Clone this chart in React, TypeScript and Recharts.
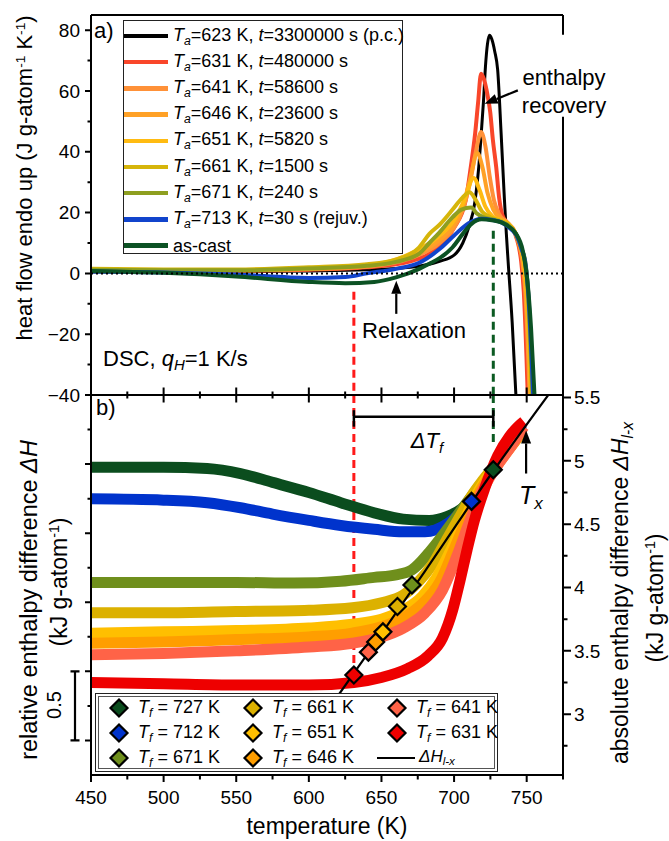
import React from "react";
import { LineChart, ComposedChart, Line, Scatter, XAxis, YAxis, ReferenceLine } from "recharts";

const FONT = "'Liberation Sans', Arial, Helvetica, sans-serif";

// panel a) DSC scans, [temperature K, heat flow J g-atom^-1 K^-1]
const dscPc: [number, number][] = [[450, 0.5], [500, 0.5], [550, 0.6], [600, 0.8], [640, 1.2], [670, 2], [690, 4], [700, 6], [706, 10], [710, 15], [714.5, 24], [717, 35], [718.7, 46], [720.3, 57], [721.6, 68], [723, 75.5], [724.4, 78.3], [726, 77], [728, 73], [730, 67], [732.4, 46], [734.7, 24], [736, 13], [737.2, 4], [740, -16], [743, -44]];
const dsc631: [number, number][] = [[450, 1], [500, 0.8], [550, 0.9], [600, 1.2], [640, 2], [670, 4], [690, 9], [700, 15], [708, 24], [711.5, 35], [714.5, 46], [716.5, 56], [718.6, 65.7], [720.5, 64], [722.5, 60], [724.9, 53], [726.7, 44], [729, 35], [731, 25], [733.4, 19], [737, 16.5], [742, 13], [744.5, 9], [746.2, 4], [748, -6], [751, -44]];
const dsc641: [number, number][] = [[450, 1], [500, 0.9], [550, 1], [600, 1.4], [640, 2.2], [670, 5], [690, 10], [700, 15], [706, 21], [711, 30], [715, 40], [718.6, 46.5], [721.5, 42], [724.5, 32], [727.5, 24], [731, 19.5], [736, 17], [742, 13.5], [745, 9], [747, 4], [749, -6], [752.3, -44]];
const dsc646: [number, number][] = [[450, 1.1], [500, 1], [550, 1], [600, 1.5], [640, 2.4], [670, 5.5], [690, 11], [700, 16], [706, 22], [711, 31], [716, 39.6], [719.5, 35], [723, 26.5], [727, 21], [732, 18], [737, 16.5], [742, 13.5], [745.5, 9], [747.5, 4], [749.5, -6], [752.8, -44]];
const dsc651: [number, number][] = [[450, 1.2], [500, 1], [550, 1.1], [600, 1.7], [640, 2.6], [670, 6.5], [690, 12.5], [700, 17.5], [707, 24], [713.5, 31.4], [717.5, 27.5], [721.5, 22], [726, 19], [732, 17.5], [737, 16.5], [742, 13.5], [746, 8.5], [748, 4], [750, -6], [753.3, -44]];
const dsc661: [number, number][] = [[450, 1.5], [500, 1.3], [550, 1.3], [600, 2], [640, 3], [660, 4.5], [676, 8.6], [683, 13], [690, 16], [699, 21], [705, 24.5], [710.7, 26.7], [714.5, 24.5], [719, 20.5], [725, 18.5], [732, 17.3], [737, 16.2], [742, 13.5], [746, 8.5], [748.5, 4], [750.5, -6], [753.8, -44]];
const dsc671: [number, number][] = [[450, 1.2], [500, 1], [550, 1], [600, 1.6], [640, 2.5], [660, 3.8], [676, 6.5], [683, 10], [690, 13.5], [699, 18.5], [705, 21], [711.8, 21.7], [715.5, 19.8], [720, 18.5], [726, 17.8], [733, 16.8], [738, 15.5], [743, 12.5], [746.5, 8], [749, 4], [751, -6], [754.3, -44]];
const dsc713: [number, number][] = [[450, 0.6], [500, 0.3], [550, -0.4], [600, -1.5], [625, -1.2], [640, 0], [660, 1.5], [676, 3.5], [690, 8], [700, 12.5], [710, 16.5], [719, 18], [726, 17.6], [733, 16.7], [738, 15], [743, 12.5], [746.5, 8], [749.2, 3], [751, -6], [754.8, -44]];
const dscCast: [number, number][] = [[450, 0.8], [500, 0.2], [550, -1], [600, -2.8], [625, -3.2], [645, -2.8], [660, -1.3], [676, 1.5], [683, 3.2], [690, 5], [699, 8.6], [706, 13], [712, 16.3], [719, 17.8], [726, 17.5], [733, 16.7], [742.7, 13], [747.3, 7.5], [749.6, 1], [751, -5], [753, -18], [755.8, -44]];

const annealTa = ["623", "631", "641", "646", "651", "661", "671", "713"];
const annealTime = ["3300000", "480000", "58600", "23600", "5820", "1500", "240", "30"];
const annealNote = [" (p.c.)", "", "", "", "", "", "", " (rejuv.)"];

const dscSeries = [
  { id: "pc", data: dscPc, color: "#000000", w: 3 },
  { id: "631", data: dsc631, color: "#f9462a", w: 4 },
  { id: "641", data: dsc641, color: "#ff9138", w: 4 },
  { id: "646", data: dsc646, color: "#ffa126", w: 4 },
  { id: "651", data: dsc651, color: "#ffbb12", w: 4 },
  { id: "661", data: dsc661, color: "#d6b50a", w: 4 },
  { id: "671", data: dsc671, color: "#8e9f20", w: 4 },
  { id: "713", data: dsc713, color: "#1144cc", w: 4 },
  { id: "cast", data: dscCast, color: "#0c5224", w: 4 },
];

// panel b) enthalpy curves, [temperature K, enthalpy (right axis units)]
const h727: [number, number][] = [[450, 4.95], [500, 4.95], [530, 4.94], [553, 4.9], [575, 4.83], [600, 4.75], [622, 4.67], [645, 4.59], [665, 4.54], [683, 4.53], [695, 4.56], [705, 4.62], [712, 4.7], [720, 4.82], [727, 4.93], [735, 5.07], [742, 5.2], [747, 5.28]];
const h712: [number, number][] = [[450, 4.7], [500, 4.69], [530, 4.67], [553, 4.63], [575, 4.58], [600, 4.53], [622, 4.49], [645, 4.46], [665, 4.44], [680, 4.44], [695, 4.5], [705, 4.6], [712, 4.69], [720, 4.82], [727, 4.94], [735, 5.08], [742, 5.21], [747, 5.29]];
const h671: [number, number][] = [[450, 4.04], [500, 4.04], [550, 4.04], [590, 4.035], [622, 4.05], [645, 4.08], [660, 4.1], [671, 4.14], [683, 4.28], [694, 4.44], [703, 4.58], [712, 4.72], [720, 4.84], [727, 4.94], [735, 5.07], [742, 5.19], [747, 5.27]];
const h661: [number, number][] = [[450, 3.8], [500, 3.8], [550, 3.81], [600, 3.82], [630, 3.84], [650, 3.88], [665, 3.94], [675, 4.04], [685, 4.18], [695, 4.38], [705, 4.58], [713, 4.74], [720, 4.85], [727, 4.95], [735, 5.07], [742, 5.18], [747, 5.25]];
const h651: [number, number][] = [[450, 3.64], [500, 3.65], [550, 3.66], [600, 3.68], [630, 3.71], [650, 3.75], [665, 3.82], [678, 3.93], [688, 4.08], [698, 4.3], [706, 4.5], [714, 4.7], [721, 4.84], [728, 4.95], [736, 5.07], [742, 5.16], [747, 5.23]];
const h646: [number, number][] = [[450, 3.56], [500, 3.57], [550, 3.59], [600, 3.61], [630, 3.64], [650, 3.69], [665, 3.76], [678, 3.87], [690, 4.04], [700, 4.3], [708, 4.52], [716, 4.72], [723, 4.86], [730, 4.97], [737, 5.08], [743, 5.17], [747.5, 5.24]];
const h641: [number, number][] = [[450, 3.47], [500, 3.48], [550, 3.5], [600, 3.53], [630, 3.56], [650, 3.61], [665, 3.68], [680, 3.8], [692, 3.98], [702, 4.25], [710, 4.5], [718, 4.73], [725, 4.88], [732, 5.0], [739, 5.11], [744, 5.2], [748, 5.27]];
const h631: [number, number][] = [[450, 3.25], [500, 3.24], [550, 3.23], [600, 3.23], [631, 3.25], [650, 3.29], [668, 3.36], [682, 3.46], [692, 3.6], [699, 3.82], [704, 4.05], [709, 4.3], [714, 4.53], [721, 4.78], [730, 5.04], [738, 5.19], [744, 5.27], [748, 5.31]];

const tfValues = [727, 712, 671, 661, 651, 646, 641, 631];
const tfColors = ["#0b4d1e", "#0033cc", "#6f8f1c", "#dcb100", "#ffbf00", "#ff9e00", "#ff6347", "#ee0000"];
const tfCurves = [h727, h712, h671, h661, h651, h646, h641, h631];
const tfEnthalpy = [4.93, 4.68, 4.02, 3.85, 3.65, 3.57, 3.49, 3.31];

// liquid-crystal enthalpy difference
const dHlxT = [600, 640, 680, 727, 770];
const dHlxV = [2.82, 3.47, 4.13, 4.92, 5.6];

const xDomain = [450, 775];
const heatDomain = [-40, 85];
const relDomain = [-0.25, 2.5];
const absDomain = [2.52, 5.52];
const xTicks = [450, 475, 500, 525, 550, 575, 600, 625, 650, 675, 700, 725, 750, 775];
const heatTicks = [-40, -30, -20, -10, 0, 10, 20, 30, 40, 50, 60, 70, 80];
const relTicks = [0, 0.25, 0.5, 0.75, 1, 1.25, 1.5, 1.75, 2, 2.25];
const absTicks = [2.75, 3, 3.25, 3.5, 3.75, 4, 4.25, 4.5, 4.75, 5, 5.25, 5.5];
const scaleBar = [0, 0.5];

// plot boxes (page px) that the chart margins below produce
const P_LEFT = 91;
const P_RIGHT = 563;
const A_TOP = 15;
const A_BOTTOM = 395;
const B_TOP = 395;
const B_BOTTOM = 775;

const lin = (d: number[], r0: number, r1: number) => (v: number) => r0 + ((v - d[0]) / (d[1] - d[0])) * (r1 - r0);
const xPx = lin(xDomain, P_LEFT, P_RIGHT);
const heatPx = lin(heatDomain, A_BOTTOM, A_TOP);
const relPx = lin(relDomain, B_BOTTOM, B_TOP);
const absPx = lin(absDomain, B_BOTTOM, B_TOP);

const pts = (a: [number, number][]) => a.map(([t, v]) => ({ t, v }));
const isMajor = (v: number, step: number) => Math.abs(v / step - Math.round(v / step)) < 1e-6;

const BLACK_LINE = { stroke: "#000", strokeWidth: 2 };

const TopYTick = (p: any) => {
  const { x, y, payload } = p;
  const v = payload.value;
  if (!isMajor(v, 20)) return <g />;
  return (
    <text x={x} y={y} dy="0.35em" textAnchor="end" fontSize={19} fontFamily={FONT} fill="#000">
      {v < 0 ? `\u2212${-v}` : v}
    </text>
  );
};

const BottomXTick = (p: any) => {
  const { x, y, payload } = p;
  if (!isMajor(payload.value, 50) || payload.value > 750) return <g />;
  return (
    <text x={x} y={y + 22} dy="0.35em" textAnchor="middle" fontSize={19} fontFamily={FONT} fill="#000">
      {payload.value}
    </text>
  );
};

const AbsTick = (p: any) => {
  const { x, y, payload } = p;
  if (!isMajor(payload.value, 0.5)) return <g />;
  return (
    <text x={x + 11} y={y} dy="0.35em" textAnchor="start" fontSize={19} fontFamily={FONT} fill="#000">
      {payload.value}
    </text>
  );
};

const Arrow = (p: any) => {
  const { x1, y1, x2, y2 } = p;
  const dx = x2 - x1;
  const dy = y2 - y1;
  const len = Math.sqrt(dx * dx + dy * dy) || 1;
  const ux = dx / len;
  const uy = dy / len;
  const hl = 13;
  const hw = 5;
  const bx = x2 - ux * hl;
  const by = y2 - uy * hl;
  return (
    <g>
      <line x1={x1} y1={y1} x2={bx} y2={by} stroke="#000" strokeWidth={2.2} />
      <polygon points={`${x2},${y2} ${bx - uy * hw},${by + ux * hw} ${bx + uy * hw},${by - ux * hw}`} fill="#000" />
    </g>
  );
};

const Diamond = ({ cx, cy, fill, s = 8.5 }: { cx: number; cy: number; fill: string; s?: number }) => (
  <polygon points={`${cx},${cy - s} ${cx + s},${cy} ${cx},${cy + s} ${cx - s},${cy}`} fill={fill} stroke="#000" strokeWidth={2.2} />
);

const abs = (left: number, top: number, extra: React.CSSProperties = {}): React.CSSProperties => ({
  position: "absolute",
  left,
  top,
  fontFamily: FONT,
  whiteSpace: "nowrap",
  lineHeight: 1,
  color: "#000",
  ...extra,
});

const VText = ({ cx, cy, size, children }: { cx: number; cy: number; size: number; children: React.ReactNode }) => (
  <div style={abs(cx, cy, { fontSize: size, transform: "translate(-50%, -50%) rotate(-90deg)" })}>{children}</div>
);

const sup = { fontSize: "0.62em", verticalAlign: "0.55em" } as React.CSSProperties;
const sub = { fontSize: "0.68em", verticalAlign: "-0.3em" } as React.CSSProperties;

// tick marks of all axes, built from the tick arrays and the axis scales
function tickPath() {
  let d = "";
  heatTicks.forEach((v) => {
    const y = heatPx(v);
    d += isMajor(v, 20) ? `M${P_LEFT - 6},${y}H${P_LEFT + 1}` : `M${P_LEFT - 3.5},${y}H${P_LEFT}`;
  });
  xTicks.forEach((t) => {
    if (t === xDomain[0] || t === xDomain[1]) return;
    const x = xPx(t);
    const h = isMajor(t, 50) ? 7.5 : 3.5;
    d += `M${x},${A_BOTTOM - h}V${A_BOTTOM + h}`;
  });
  xTicks.forEach((t) => {
    const x = xPx(t);
    d += `M${x},${B_BOTTOM}V${B_BOTTOM + (isMajor(t, 50) ? 7 : 4.5)}`;
  });
  relTicks.forEach((v) => {
    const y = relPx(v);
    d += isMajor(v, 0.5) ? `M${P_LEFT - 6},${y}H${P_LEFT}` : `M${P_LEFT - 3.5},${y}H${P_LEFT}`;
  });
  absTicks.forEach((v) => {
    const y = absPx(v);
    d += `M${P_RIGHT},${y}H${P_RIGHT + (isMajor(v, 0.5) ? 8 : 4.5)}`;
  });
  return d;
}

export default function App() {
  const diamonds = tfValues.map((t, i) => ({ t, v: tfEnthalpy[i], c: tfColors[i] }));
  const lineHlx = dHlxT.map((t, i) => ({ t, v: dHlxV[i] }));
  const sb0 = relPx(scaleBar[0]);
  const sb1 = relPx(scaleBar[1]);
  return (
    <div style={{ position: "absolute", left: 0, top: 0, width: 669, height: 841, background: "#fff", overflow: "hidden" }}>
      <div style={{ position: "absolute", left: 0, top: 0 }}>
        <LineChart width={669} height={410} margin={{ top: A_TOP, right: 669 - P_RIGHT, bottom: 410 - A_BOTTOM, left: P_LEFT - 60 }}>
          <XAxis type="number" dataKey="t" domain={xDomain} ticks={xTicks} interval={0} tick={false} tickLine={false} axisLine={BLACK_LINE} height={0} allowDataOverflow />
          <YAxis type="number" domain={heatDomain} ticks={heatTicks} interval={0} tickSize={0} tickMargin={11} tickLine={false} tick={<TopYTick />} axisLine={BLACK_LINE} width={60} allowDataOverflow />
          {dscSeries.map((s) => (
            <Line key={s.id} data={pts(s.data)} dataKey="v" type="monotone" stroke={s.color} strokeWidth={s.w} dot={false} isAnimationActive={false} />
          ))}
          <ReferenceLine y={0} stroke="#000" strokeWidth={2} strokeDasharray="2 3" />
          <ReferenceLine y={85} stroke="#000" strokeWidth={2} />
          <ReferenceLine y={-40} stroke="#000" strokeWidth={2} />
          <ReferenceLine segment={[{ x: 775, y: 85 }, { x: 775, y: 78.5 }]} stroke="#000" strokeWidth={2} />
          <ReferenceLine segment={[{ x: 775, y: 51.5 }, { x: 775, y: -40 }]} stroke="#000" strokeWidth={2} />
          <ReferenceLine segment={[{ x: 631, y: -6 }, { x: 631, y: -40 }]} stroke="#ff1a1a" strokeWidth={3} strokeDasharray="8 5" />
          <ReferenceLine segment={[{ x: 727, y: 14 }, { x: 727, y: -40 }]} stroke="#0b5a22" strokeWidth={3} strokeDasharray="8 5" />
          <ReferenceLine segment={[{ x: 660.2, y: -13.3 }, { x: 660.2, y: -2.4 }]} shape={<Arrow />} />
          <ReferenceLine segment={[{ x: 743.9, y: 60.2 }, { x: 721, y: 55.8 }]} shape={<Arrow />} />
        </LineChart>
      </div>

      <div style={{ position: "absolute", left: 0, top: 380 }}>
        <ComposedChart width={669} height={461} margin={{ top: B_TOP - 380, right: 669 - P_RIGHT - 60, bottom: 461 - (B_BOTTOM - 380) - 30, left: P_LEFT - 50 }}>
          <XAxis type="number" dataKey="t" domain={xDomain} ticks={xTicks} interval={0} tickSize={0} tickMargin={0} tickLine={false} tick={<BottomXTick />} axisLine={BLACK_LINE} height={30} allowDataOverflow />
          <YAxis yAxisId="rel" type="number" domain={relDomain} ticks={relTicks} interval={0} tick={false} tickLine={false} axisLine={BLACK_LINE} width={50} />
          <YAxis yAxisId="abs" orientation="right" type="number" domain={absDomain} ticks={absTicks} interval={0} tickSize={0} tickMargin={0} tickLine={false} tick={<AbsTick />} axisLine={BLACK_LINE} width={60} allowDataOverflow />
          <ReferenceLine yAxisId="abs" segment={[{ x: 631, y: 5.52 }, { x: 631, y: 3.33 }]} stroke="#ff1a1a" strokeWidth={3} strokeDasharray="8 5" />
          <ReferenceLine yAxisId="abs" segment={[{ x: 727, y: 5.52 }, { x: 727, y: 5.12 }]} stroke="#0b5a22" strokeWidth={3} strokeDasharray="8 5" />
          {tfCurves.map((c, i) => (
            <Line key={tfValues[i]} yAxisId="abs" data={pts(c)} dataKey="v" type="monotone" stroke={tfColors[i]} strokeWidth={11} dot={false} isAnimationActive={false} />
          ))}
          <Line yAxisId="abs" data={lineHlx} dataKey="v" type="monotone" stroke="#000" strokeWidth={2.2} dot={false} isAnimationActive={false} />
          <Scatter yAxisId="abs" data={diamonds} dataKey="v" isAnimationActive={false} shape={(p: any) => <Diamond cx={p.cx} cy={p.cy} fill={p.payload.c} />} />
          <ReferenceLine yAxisId="abs" segment={[{ x: 631, y: 5.348 }, { x: 727, y: 5.348 }]} stroke="#000" strokeWidth={2.5} />
          <ReferenceLine yAxisId="abs" segment={[{ x: 631, y: 5.4 }, { x: 631, y: 5.27 }]} stroke="#000" strokeWidth={2.5} />
          <ReferenceLine yAxisId="abs" segment={[{ x: 727, y: 5.4 }, { x: 727, y: 5.27 }]} stroke="#000" strokeWidth={2.5} />
          <ReferenceLine yAxisId="abs" segment={[{ x: 749.6, y: 4.9 }, { x: 749.6, y: 5.24 }]} shape={<Arrow />} />
        </ComposedChart>
      </div>

      {/* axis tick marks, panel divider and the 0.5 scale bar of the relative axis */}
      <svg style={{ position: "absolute", left: 0, top: 0 }} width={669} height={841}>
        <path d={`M${P_LEFT},${A_BOTTOM}H${P_RIGHT}`} stroke="#000" strokeWidth={2} fill="none" />
        <path d={tickPath()} stroke="#000" strokeWidth={2} fill="none" />
        <path d={`M75,${sb0}V${sb1}M70.5,${sb0}H79.5M70.5,${sb1}H79.5`} stroke="#000" strokeWidth={2.2} fill="none" />
      </svg>

      {/* panel a legend */}
      <div style={abs(123, 20, { width: 280, height: 234, border: "1.5px solid #222", background: "#fff", boxSizing: "border-box" })}>
        {annealTa.map((ta, i) => (
          <div key={ta} style={abs(0, 3 + i * 26.2, { height: 24, display: "flex", alignItems: "center", fontSize: 18 })}>
            <div style={{ width: 44, height: 4.5, background: dscSeries[i].color, marginRight: 5 }} />
            <span>
              <i>T</i>
              <i style={sub}>a</i>={ta} K, <i>t</i>={annealTime[i]} s{annealNote[i]}
            </span>
          </div>
        ))}
        <div style={abs(0, 3 + 8 * 26.2, { height: 24, display: "flex", alignItems: "center", fontSize: 18 })}>
          <div style={{ width: 44, height: 4.5, background: dscSeries[8].color, marginRight: 5 }} />
          <span>as-cast</span>
        </div>
      </div>

      {/* panel b legend */}
      <div style={abs(95, 693, { width: 403, height: 79, border: "1.5px solid #222", outline: "1px solid #555", outlineOffset: "-4px", background: "#fff", boxSizing: "border-box" })}>
        {tfValues.map((t, i) => {
          const col = Math.floor(i / 3);
          const row = i % 3;
          const lefts = [12, 146, 290];
          return (
            <div key={t} style={abs(lefts[col], 2 + row * 25, { height: 24, display: "flex", alignItems: "center", fontSize: 18 })}>
              <svg width={22} height={22} style={{ marginRight: 8 }}>
                <Diamond cx={11} cy={11} fill={tfColors[i]} s={8.5} />
              </svg>
              <span>
                <i>T</i>
                <i style={sub}>f</i> = {t} K
              </span>
            </div>
          );
        })}
        <div style={abs(281, 52, { height: 24, display: "flex", alignItems: "center", fontSize: 17 })}>
          <div style={{ width: 38, height: 2.5, background: "#000", marginRight: 4 }} />
          <span>
            <i>ΔH</i>
            <i style={sub}>l-x</i>
          </span>
        </div>
      </div>

      {/* annotations */}
      <div style={abs(94, 20, { fontSize: 22 })}>a)</div>
      <div style={abs(96, 397, { fontSize: 22 })}>b)</div>
      <div style={abs(103, 348, { fontSize: 22 })}>
        DSC, <i>q</i>
        <i style={sub}>H</i>=1 K/s
      </div>
      <div style={abs(564, 64, { fontSize: 22, transform: "translateX(-50%)", textAlign: "center", lineHeight: "28px" })}>
        enthalpy
        <br />
        recovery
      </div>
      <div style={abs(362, 320, { fontSize: 22 })}>Relaxation</div>
      <div style={abs(427, 443, { fontSize: 22, transform: "translate(-50%, -50%)" })}>
        <i>ΔT</i>
        <i style={sub}>f</i>
      </div>
      <div style={abs(519, 483, { fontSize: 25 })}>
        <i>T</i>
        <i style={sub}>x</i>
      </div>
      <VText cx={54} cy={705} size={20}>0.5</VText>

      {/* axis titles */}
      <VText cx={25} cy={178} size={22}>
        heat flow endo up (J g-atom<span style={sup}>-1</span> K<span style={sup}>-1</span>)
      </VText>
      <VText cx={30} cy={600} size={23.5}>
        relative enthalpy difference <i>ΔH</i>
      </VText>
      <VText cx={59} cy={582} size={23}>
        (kJ g-atom<span style={sup}>-1</span>)
      </VText>
      <VText cx={622} cy={593} size={23}>
        absolute enthalpy difference <i>ΔH</i>
        <i style={sub}>l-x</i>
      </VText>
      <VText cx={655} cy={598} size={23}>
        (kJ g-atom<span style={sup}>-1</span>)
      </VText>
      <div style={abs(327, 826, { fontSize: 23, transform: "translate(-50%, -50%)" })}>temperature (K)</div>
    </div>
  );
}
